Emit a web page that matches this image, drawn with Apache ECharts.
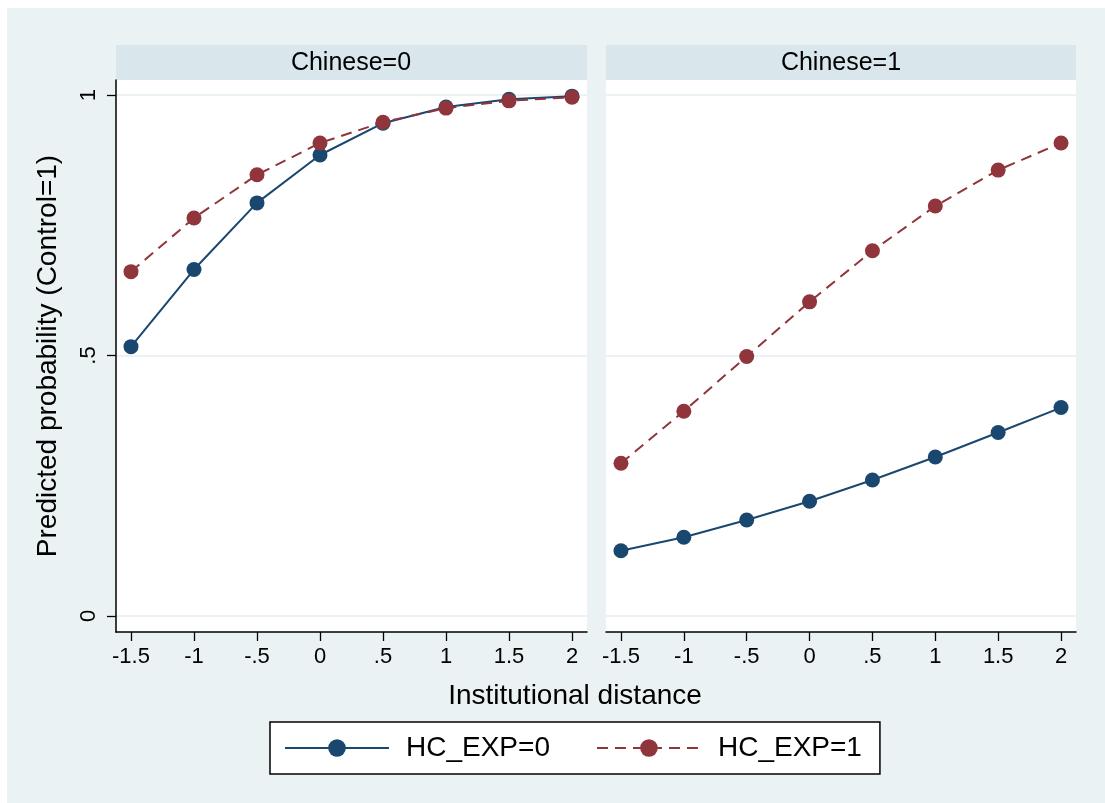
<!DOCTYPE html>
<html>
<head>
<meta charset="utf-8">
<script src="https://cdn.jsdelivr.net/npm/echarts@6/dist/echarts.min.js"></script>
<style>
  html, body { margin: 0; padding: 0; background: #fff; }
  #main { width: 1105px; height: 803px; }
</style>
</head>
<body>
<div id="main"></div>
<script>
// institutional distance (x)
var xValues = [-1.5, -1, -0.5, 0, 0.5, 1, 1.5, 2];
var xTickLabels = ['-1.5', '-1', '-.5', '0', '.5', '1', '1.5', '2'];
var yTicks = [0, 0.5, 1];
var yTickLabels = ['0', '.5', '1'];

// Chinese=0
var c0_exp0 = [0.517, 0.665, 0.793, 0.885, 0.946, 0.977, 0.992, 0.998];
var c0_exp1 = [0.661, 0.764, 0.847, 0.908, 0.948, 0.975, 0.989, 0.996];
// Chinese=1
var c1_exp0 = [0.125, 0.151, 0.184, 0.220, 0.261, 0.305, 0.352, 0.400];
var c1_exp1 = [0.293, 0.393, 0.498, 0.603, 0.701, 0.787, 0.856, 0.908];

var panelNames = ['Chinese=0', 'Chinese=1'];
var seriesNames = ['HC_EXP=0', 'HC_EXP=1'];

var BLUE = '#1a476f';
var RED = '#90353b';
var BG = '#eaf2f3';
var STRIP = '#d9e6eb';
var FONT = '"Liberation Sans", Arial, Helvetica, sans-serif';

function pairs(ys) {
  return xValues.map(function (x, i) { return [x, ys[i]]; });
}

function xAxisOpt(idx) {
  return {
    type: 'value',
    gridIndex: idx,
    min: -1.619,
    max: 2.119,
    axisLine: { show: true, onZero: false, lineStyle: { color: '#000', width: 1.5 } },
    axisTick: { show: true, length: 9, customValues: xValues, lineStyle: { color: '#000', width: 1.3 } },
    axisLabel: {
      customValues: xValues,
      margin: 14,
      color: '#000',
      fontFamily: FONT,
      fontSize: 22,
      formatter: function (v) {
        var i = xValues.indexOf(v);
        return i >= 0 ? xTickLabels[i] : '';
      }
    },
    splitLine: { show: false }
  };
}

function yAxisOpt(idx) {
  var left = idx === 0;
  return {
    type: 'value',
    gridIndex: idx,
    min: -0.031,
    max: 1.029,
    name: left ? 'Predicted probability (Control=1)' : '',
    nameLocation: 'middle',
    nameGap: 54,
    nameTextStyle: { color: '#000', fontFamily: FONT, fontSize: 28 },
    axisLine: { show: left, onZero: false, lineStyle: { color: '#000', width: 1.5 } },
    axisTick: { show: left, length: 9, customValues: yTicks, lineStyle: { color: '#000', width: 1.3 } },
    axisLabel: {
      show: left,
      customValues: yTicks,
      rotate: 90,
      margin: 16,
      color: '#000',
      fontFamily: FONT,
      fontSize: 22,
      formatter: function (v) {
        var i = yTicks.indexOf(v);
        return i >= 0 ? yTickLabels[i] : '';
      }
    },
    splitLine: { show: true, lineStyle: { color: BG, width: 2 } }
  };
}

function lineSeries(name, idx, ys, color, dashed) {
  return {
    name: name,
    type: 'line',
    xAxisIndex: idx,
    yAxisIndex: idx,
    data: pairs(ys),
    symbol: 'circle',
    symbolSize: 15,
    itemStyle: { color: color },
    lineStyle: { color: color, width: 2, type: dashed ? [11, 7] : 'solid' },
    animation: false
  };
}

var chart = echarts.init(document.getElementById('main'), null, { renderer: 'canvas' });

chart.setOption({
  backgroundColor: '#fff',
  animation: false,
  graphic: [
    { type: 'rect', z: -10, shape: { x: 7, y: 8, width: 1098, height: 795 }, style: { fill: BG } },
    { type: 'rect', z: -5, shape: { x: 116, y: 45, width: 471, height: 35 }, style: { fill: STRIP } },
    { type: 'rect', z: -5, shape: { x: 606, y: 45, width: 470, height: 35 }, style: { fill: STRIP } },
    { type: 'text', x: 351, y: 63, style: { text: panelNames[0], fill: '#000', font: '25px ' + FONT, textAlign: 'center', textVerticalAlign: 'middle' } },
    { type: 'text', x: 841, y: 63, style: { text: panelNames[1], fill: '#000', font: '25px ' + FONT, textAlign: 'center', textVerticalAlign: 'middle' } },
    { type: 'text', x: 575, y: 696, style: { text: 'Institutional distance', fill: '#000', font: '28px ' + FONT, textAlign: 'center', textVerticalAlign: 'middle' } }
  ],
  grid: [
    { left: 116, top: 80, width: 471, height: 552, show: true, backgroundColor: '#fff', borderWidth: 0 },
    { left: 606, top: 80, width: 470, height: 552, show: true, backgroundColor: '#fff', borderWidth: 0 }
  ],
  legend: {
    data: seriesNames,
    left: 270,
    top: 722,
    orient: 'horizontal',
    padding: [12, 18, 12, 14],
    itemGap: 46,
    itemWidth: 104,
    itemHeight: 22,
    backgroundColor: '#fff',
    borderColor: '#000',
    borderWidth: 1.5,
    borderRadius: 0,
    textStyle: { color: '#000', fontFamily: FONT, fontSize: 28, padding: [0, 0, 0, 12] }
  },
  xAxis: [xAxisOpt(0), xAxisOpt(1)],
  yAxis: [yAxisOpt(0), yAxisOpt(1)],
  series: [
    lineSeries(seriesNames[0], 0, c0_exp0, BLUE, false),
    lineSeries(seriesNames[1], 0, c0_exp1, RED, true),
    lineSeries(seriesNames[0], 1, c1_exp0, BLUE, false),
    lineSeries(seriesNames[1], 1, c1_exp1, RED, true)
  ]
});
</script>
</body>
</html>
